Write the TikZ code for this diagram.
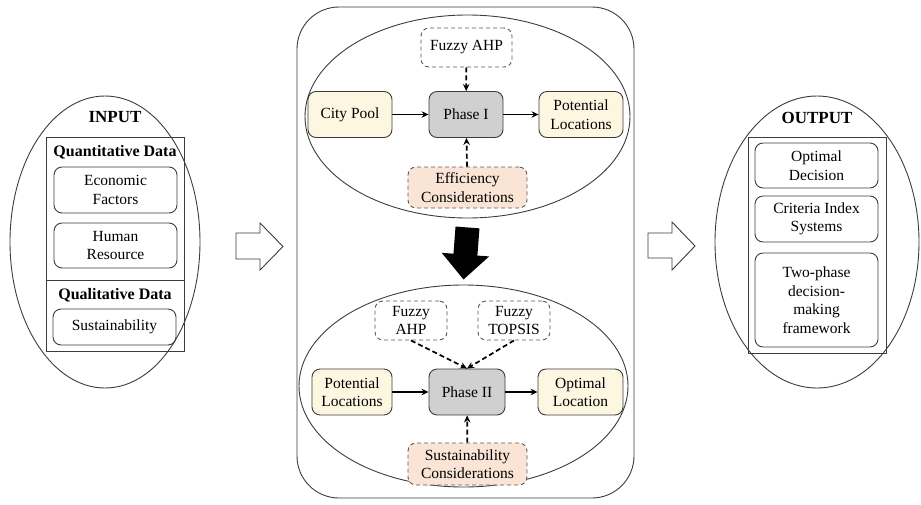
\documentclass[tikz,border=0pt]{standalone}
\usepackage{fontspec}
\setmainfont{Liberation Serif}
\usetikzlibrary{shapes.geometric,arrows.meta}
\definecolor{cream}{RGB}{253,246,224}
\definecolor{phasegray}{RGB}{208,208,208}
\definecolor{peach}{RGB}{250,228,214}
\definecolor{edge}{RGB}{60,60,60}
\begin{document}
\begin{tikzpicture}[x=1pt,y=-1pt,
 every node/.style={font=\fontsize{15.5}{18.5}\selectfont, align=center, inner sep=0pt},
 titlefont/.style={font=\fontsize{17}{20}\selectfont\bfseries},
 headfont/.style={font=\fontsize{16}{19}\selectfont\bfseries},
 oval/.style={ellipse, draw=edge, line width=0.9pt},
 frame/.style={draw=edge, line width=0.9pt},
 sbox/.style={draw=edge, rounded corners=8pt, line width=0.9pt},
 inbox/.style={sbox, minimum width=123pt},
 ybox/.style={sbox, fill=cream, minimum width=84pt, minimum height=46pt},
 pbox/.style={sbox, fill=phasegray, minimum width=75pt, minimum height=46pt},
 dbox/.style={draw=edge!85, dash pattern=on 4pt off 3pt, rounded corners=8pt, line width=0.9pt},
 flow/.style={-{Stealth[length=7pt,width=6.5pt]}, line width=1.7pt},
 dflow/.style={flow, dash pattern=on 5pt off 3pt},
 blockarrow/.style={draw=edge, line width=0.9pt, fill=white},
]
\useasboundingbox (0,0) rectangle (921,504);

% ---------- INPUT ----------
\node[oval, minimum width=190pt, minimum height=292pt] (inoval) at (105,242) {};
\node[titlefont] (intitle) at (115,117) {INPUT};
\node[frame, minimum width=138pt, minimum height=214pt] (inframe) at (115,244) {};
\coordinate (divl) at (46,280);
\coordinate (divr) at (184,280);
\draw[frame] (divl) -- (divr);
\node[headfont] (quant) at (115,152) {Quantitative Data};
\node[inbox, minimum height=46pt] (econ) at (115.5,190) {Economic\\Factors};
\node[inbox, minimum height=45pt] (human) at (115.5,245.5) {Human\\Resource};
\node[headfont] (qual) at (115,295) {Qualitative Data};
\node[inbox, minimum height=36pt] (sust) at (114.5,327) {Sustainability};

% block arrow left
\draw[blockarrow] (236,233) -- (260,233) -- (260,223) -- (283,246.5) -- (260,270) -- (260,259) -- (236,259) -- cycle;

% ---------- MIDDLE ----------
\node[draw=edge, line width=0.9pt, rounded corners=42pt, minimum width=337pt, minimum height=491pt] (mid) at (465.5,252.5) {};

\node[oval, minimum width=325pt, minimum height=203pt] (ov1) at (467.5,116.5) {};
\node[dbox, minimum width=91pt, minimum height=39pt] (fa1) at (466.5,47.5) {Fuzzy AHP};
\node[ybox] (city) at (350,114.5) {City Pool};
\node[pbox, minimum width=74pt] (p1) at (466,114.5) {Phase I};
\node[ybox, font=\fontsize{15.5}{19.5}\selectfont] (pot1) at (581,114.5) {Potential\\Locations};
\node[dbox, fill=peach, minimum width=119pt, minimum height=41pt] (eff) at (467.5,187.5) {Efficiency\\Considerations};

\draw[flow] (city) -- (p1);
\draw[flow] (p1) -- (pot1);
\draw[dflow] (fa1) -- (p1);
\draw[dflow] (eff) -- (p1);

\node[oval, minimum width=329pt, minimum height=202pt] (ov2) at (463.5,386) {};
\node[dbox, minimum width=72pt, minimum height=39pt] (fa2) at (411,320.5) {Fuzzy\\AHP};
\node[dbox, minimum width=72pt, minimum height=39pt] (ft2) at (514,320.5) {Fuzzy\\TOPSIS};
\node[ybox, minimum width=80pt] (pot2) at (352,392) {Potential\\Locations};
\node[pbox, minimum width=76pt] (p2) at (467,392) {Phase II};
\node[ybox, minimum width=85pt] (opt) at (580.5,392) {Optimal\\Location};
\node[dbox, fill=peach, minimum width=119pt, minimum height=42pt] (sus2) at (467.5,464) {Sustainability\\Considerations};

\draw[flow] (pot2) -- (p2);
\draw[flow] (p2) -- (opt);
\draw[dflow] (fa2.south) -- (p2.north);
\draw[dflow] (ft2.south) -- (p2.north);
\draw[dflow] (sus2) -- (p2);

% big black arrow
\draw[line width=24pt, -{Triangle[length=25pt,width=46pt]}] ([yshift=-9pt]ov1.south) -- ([yshift=5pt]ov2.north);

% block arrow right
\draw[blockarrow] (648,233) -- (672,233) -- (672,222) -- (695,246) -- (672,270) -- (672,258) -- (648,258) -- cycle;

% ---------- OUTPUT ----------
\node[oval, minimum width=204pt, minimum height=292pt] (outoval) at (817,242) {};
\node[titlefont] (outtitle) at (817,118) {OUTPUT};
\node[frame, minimum width=138pt, minimum height=216pt] (outframe) at (817,245) {};
\node[inbox, minimum height=45pt] (od) at (816.5,165.5) {Optimal\\Decision};
\node[inbox, minimum height=46pt] (ci) at (816.5,219) {Criteria Index\\Systems};
\node[inbox, minimum height=94pt] (tp) at (816.5,300) {Two-phase\\decision-\\making\\framework};
\end{tikzpicture}
\end{document}
